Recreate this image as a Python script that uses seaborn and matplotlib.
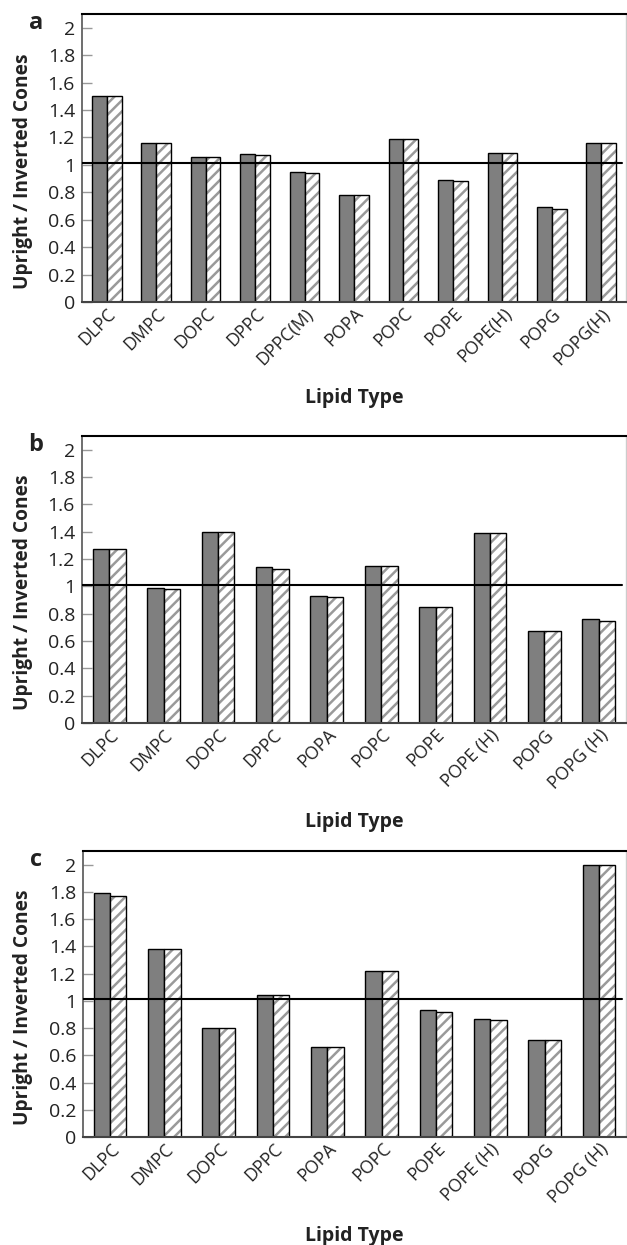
import matplotlib
matplotlib.use("Agg")
import matplotlib.pyplot as plt
from matplotlib.colors import to_rgba
import seaborn as sns
import pandas as pd

# ---- data ----
lipids_a = ["DLPC", "DMPC", "DOPC", "DPPC", "DPPC(M)", "POPA", "POPC", "POPE",
            "POPE(H)", "POPG", "POPG(H)"]
solid_a = [1.50, 1.16, 1.06, 1.08, 0.95, 0.78, 1.19, 0.89, 1.09, 0.69, 1.16]
hatched_a = [1.50, 1.16, 1.06, 1.07, 0.94, 0.78, 1.19, 0.88, 1.09, 0.68, 1.16]

lipids_b = ["DLPC", "DMPC", "DOPC", "DPPC", "POPA", "POPC", "POPE",
            "POPE (H)", "POPG", "POPG (H)"]
solid_b = [1.27, 0.99, 1.40, 1.14, 0.93, 1.15, 0.85, 1.39, 0.67, 0.76]
hatched_b = [1.27, 0.98, 1.40, 1.13, 0.92, 1.15, 0.85, 1.39, 0.67, 0.75]

lipids_c = ["DLPC", "DMPC", "DOPC", "DPPC", "POPA", "POPC", "POPE",
            "POPE (H)", "POPG", "POPG (H)"]
solid_c = [1.79, 1.38, 0.80, 1.04, 0.66, 1.22, 0.93, 0.87, 0.71, 2.00]
hatched_c = [1.77, 1.38, 0.80, 1.04, 0.66, 1.22, 0.92, 0.86, 0.71, 2.00]

series_names = ["solid", "hatched"]
panel_letters = ["a", "b", "c"]
ref_level = 1.01
yticks = [0, 0.2, 0.4, 0.6, 0.8, 1, 1.2, 1.4, 1.6, 1.8, 2]
ytick_labels = ["0", "0.2", "0.4", "0.6", "0.8", "1", "1.2", "1.4", "1.6", "1.8", "2"]

sns.set_theme(style="white")
plt.rcParams["font.family"] = ["Open Sans", "DejaVu Sans"]
plt.rcParams["hatch.linewidth"] = 1.8

W, H = 627, 1245
fig = plt.figure(figsize=(W / 100, H / 100), dpi=100)

# axes boxes in pixels: (left, top, right, bottom)
boxes = [(82, 14, 626, 302), (82, 436, 626, 723), (83, 851, 626, 1137)]
panels = [(lipids_a, solid_a, hatched_a), (lipids_b, solid_b, hatched_b),
          (lipids_c, solid_c, hatched_c)]

for (l, t, r, b), (cats, s1, s2), letter in zip(boxes, panels, panel_letters):
    ax = fig.add_axes([l / W, 1 - b / H, (r - l) / W, (b - t) / H])
    df = pd.DataFrame({
        "Lipid": cats * 2,
        "value": s1 + s2,
        "series": [series_names[0]] * len(cats) + [series_names[1]] * len(cats),
    })
    sns.barplot(data=df, x="Lipid", y="value", hue="series", order=cats,
                hue_order=series_names, palette=["#7f7f7f", "white"],
                width=0.6, gap=0, edgecolor="black", linewidth=1.0,
                saturation=1, legend=False, ax=ax, errorbar=None)
    for p in ax.containers[1]:
        p.set_hatch("///")
        p.set_edgecolor("black")
        p._hatch_color = to_rgba("#9a9a9a")
    ax.axhline(ref_level, xmin=0, xmax=0.993, color="black", lw=1.5, zorder=5)
    ax.set_ylim(0, 2.1)
    ax.set_xlim(-0.5, len(cats) - 0.5)
    ax.set_yticks(yticks)
    ax.set_yticklabels(ytick_labels)
    ax.tick_params(axis="y", direction="in", length=7, width=1, color="#999999",
                   labelsize=14, pad=5, labelcolor="#222222", left=True)
    ax.tick_params(axis="x", length=0, labelsize=12.8, pad=2, labelcolor="#222222")
    for lab in ax.get_xticklabels():
        lab.set_rotation(45)
        lab.set_ha("right")
        lab.set_rotation_mode("anchor")
    ax.spines["top"].set_color("black")
    ax.spines["top"].set_linewidth(1.5)
    ax.spines["left"].set_color("#555555")
    ax.spines["left"].set_linewidth(1.2)
    ax.spines["bottom"].set_color("#444444")
    ax.spines["bottom"].set_linewidth(1.5)
    ax.spines["right"].set_color("#cccccc")
    ax.spines["right"].set_linewidth(1.0)
    ax.set_ylabel("Upright / Inverted Cones", fontsize=13.8, fontweight="bold",
                  color="#222222")
    ax.yaxis.set_label_coords((33 - l) / (r - l), 0.455)
    ax.set_xlabel("Lipid Type", fontsize=14, fontweight="bold", labelpad=14,
                  color="#222222")
    fig.text(36 / W, 1 - (t + 9) / H, letter, fontsize=17, fontweight="bold",
             ha="center", va="center", color="#222222")

fig.savefig("out.png", dpi=100, facecolor="white")
